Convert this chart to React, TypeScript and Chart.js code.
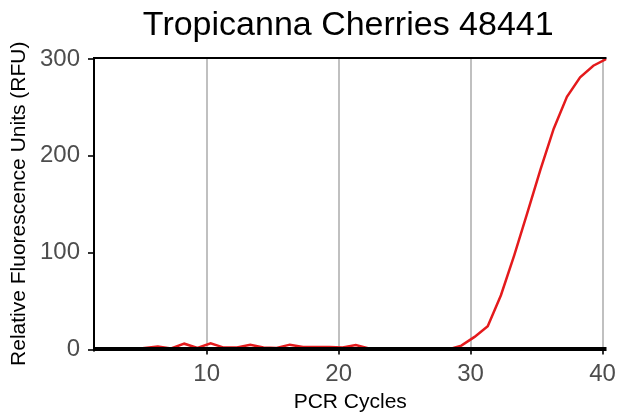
import React, { useEffect, useRef } from "react";
import { Chart, registerables } from "chart.js";

Chart.register(...registerables);

// ---- data ----
const chartTitle = "Tropicanna Cherries 48441";
const xAxisTitle = "PCR Cycles";
const yAxisTitle = "Relative Fluorescence Units (RFU)";

const cycles = [
  1, 2, 3, 4, 5, 6, 7, 8, 9, 10,
  11, 12, 13, 14, 15, 16, 17, 18, 19, 20,
  21, 22, 23, 24, 25, 26, 27, 28, 29, 30,
  31, 32, 33, 34, 35, 36, 37, 38, 39, 40,
];
const rfu = [
  0, 0, 0, 0, 1.5, 3, 1, 6, 1.5, 6.5,
  2, 2, 5, 2, 1.5, 5, 2.5, 2.5, 2.5, 2,
  4.5, 1, 0, 0, 0, 0, 0, 0, 4, 13,
  24, 56, 97, 141, 186, 228, 261, 281, 293, 300,
];
const xTickValues = [10, 20, 30, 40];
const yTickValues = [0, 100, 200, 300];

// horizontal placement of the cycle readings relative to the axis
const CYCLE_SHIFT = 0.3;
const X_MIN = 1.46;
const X_MAX = 40.3;
const Y_MIN = 0;
const Y_MAX = 301;

const FONT = '"Liberation Sans", Arial, Helvetica, sans-serif';

export default function App() {
  const canvasRef = useRef<HTMLCanvasElement | null>(null);

  useEffect(() => {
    const canvas = canvasRef.current;
    if (!canvas) return;

    const framePlugin = {
      id: "frameLines",
      afterDatasetsDraw(chart: any) {
        const { ctx, chartArea: a } = chart;
        ctx.save();
        ctx.fillStyle = "#000000";
        // top
        ctx.fillRect(a.left - 1, a.top - 1, a.right - a.left + 1, 2);
        // left
        ctx.fillRect(a.left - 1, a.top - 1, 2, a.bottom - a.top + 3);
        // bottom
        ctx.fillRect(a.left - 1, a.bottom - 2.5, a.right - a.left + 1, 4);
        ctx.restore();
      },
    };

    const titlePlugin = {
      id: "mainTitle",
      afterDraw(chart: any) {
        const { ctx, chartArea: a } = chart;
        ctx.save();
        ctx.fillStyle = "#000000";
        ctx.font = `34px ${FONT}`;
        ctx.textAlign = "center";
        ctx.textBaseline = "alphabetic";
        ctx.fillText(chartTitle, (a.left + a.right) / 2 - 2, 35);
        ctx.restore();
      },
    };

    const chart = new Chart(canvas, {
      type: "line",
      data: {
        datasets: [
          {
            data: cycles.map((c, i) => ({ x: c + CYCLE_SHIFT, y: rfu[i] })),
            borderColor: "#e41a1c",
            borderWidth: 2.5,
            pointRadius: 0,
            tension: 0,
            fill: false,
          },
        ],
      },
      options: {
        responsive: true,
        maintainAspectRatio: false,
        animation: false,
        layout: { padding: { top: 58, right: 11.5, left: 0, bottom: 0 } },
        plugins: {
          legend: { display: false },
          title: { display: false },
          tooltip: { enabled: false },
        },
        scales: {
          x: {
            type: "linear",
            min: X_MIN,
            max: X_MAX,
            afterBuildTicks: (s: any) => {
              s.ticks = xTickValues.map((v) => ({ value: v }));
            },
            afterFit: (s: any) => {
              s.height = 65.5;
              s.paddingLeft = 0;
              s.paddingRight = 0;
            },
            grid: {
              color: "#c0c0c0",
              lineWidth: 2,
              tickColor: "#333333",
              tickLength: 5,
              drawTicks: true,
            },
            border: { display: false },
            ticks: {
              color: "#4d4d4d",
              font: { size: 24, family: FONT },
              padding: 5,
              maxRotation: 0,
              autoSkip: false,
            },
            title: {
              display: true,
              text: xAxisTitle,
              color: "#000000",
              font: { size: 21, family: FONT },
              padding: { top: 0, bottom: 0 },
            },
          },
          y: {
            type: "linear",
            min: Y_MIN,
            max: Y_MAX,
            afterBuildTicks: (s: any) => {
              s.ticks = yTickValues.map((v) => ({ value: v }));
            },
            afterFit: (s: any) => {
              s.width = 94;
              s.paddingTop = 0;
              s.paddingBottom = 0;
            },
            grid: {
              drawOnChartArea: false,
              tickColor: "#333333",
              tickLength: 6,
              lineWidth: 2,
            },
            border: { display: false },
            ticks: {
              color: "#4d4d4d",
              font: { size: 24, family: FONT },
              padding: 8,
            },
            title: {
              display: true,
              text: yAxisTitle,
              color: "#000000",
              font: { size: 21, family: FONT },
              padding: { top: 7, bottom: 0 },
            },
          },
        },
      },
      plugins: [framePlugin, titlePlugin],
    });

    return () => chart.destroy();
  }, []);

  return (
    <div
      style={{
        position: "fixed",
        left: 0,
        top: 0,
        width: 618,
        height: 415,
        background: "#ffffff",
      }}
    >
      <canvas ref={canvasRef} />
    </div>
  );
}
